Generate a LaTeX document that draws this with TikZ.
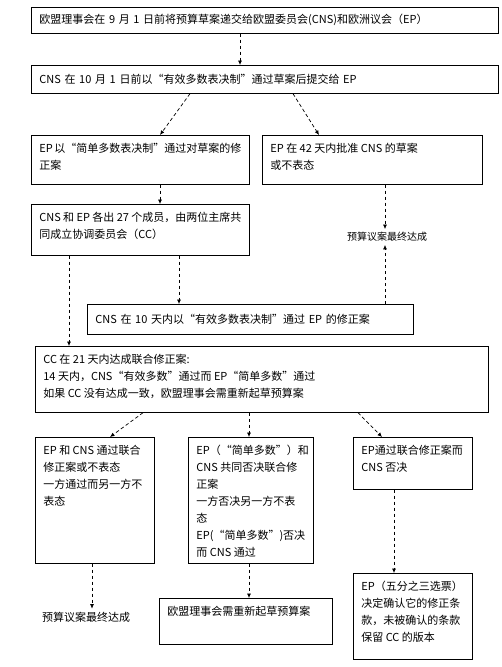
\documentclass[tikz,border=0pt]{standalone}
\usepackage{fontspec}
\setmainfont{Noto Sans CJK SC}
\usetikzlibrary{arrows.meta}
\newcommand{\boxtext}[3]{\parbox[t][#2pt][t]{#1pt}{#3}}

\begin{document}
\begin{tikzpicture}[x=1pt, y=-1pt, every node/.style={inner sep=2pt},
  stage/.style={draw, line width=0.7pt, anchor=north west, inner xsep=8pt,
    inner ysep=7.5pt, font=\fontsize{11}{17}\selectfont},
  flat/.style={stage, inner ysep=2pt, align=left},
  ann/.style={inner sep=3pt},
  arrow/.style={-{Latex[length=4.5pt, width=4pt]}, line width=0.7pt,
    dash pattern=on 3.5pt off 2.5pt}]
\useasboundingbox (0,0) rectangle (502,667);

% budget procedure, top to bottom
\node[flat, text width=451pt, minimum height=26pt] (draft) at (31,7)
  {欧盟理事会在 9 月 1 日前将预算草案递交给欧盟委员会(CNS)和欧洲议会（EP）};
\node[flat, text width=451pt, minimum height=28pt] (cnsread) at (31,65)
  {CNS 在 10 月 1 日前以“有效多数表决制”通过草案后提交给 EP};
\node[stage] (epamend) at (31,135)
  {\boxtext{202}{34}{EP 以“简单多数表决制”通过对草案的修\\正案}};
\node[stage] (epok) at (262,135)
  {\boxtext{204}{34}{EP 在 42 天内批准 CNS 的草案\\或不表态}};
\node[stage] (concil) at (31,204)
  {\boxtext{202}{36}{CNS 和 EP 各出 27 个成员，由两位主席共\\同成立协调委员会（CC）}};
\node[ann, font=\fontsize{10}{12}\selectfont] (done1) at (387,237) {预算议案最终达成};
\node[flat, text width=310pt, minimum height=30pt] (cnsok) at (87,304)
  {CNS 在 10 天内以“有效多数表决制”通过 EP 的修正案};
\node[stage] (joint) at (35,346)
  {\boxtext{437}{51}{CC 在 21 天内达成联合修正案:\\14 天内，CNS“有效多数”通过而 EP“简单多数”通过\\如果 CC 没有达成一致，欧盟理事会需重新起草预算案}};
\node[stage] (both) at (35,437)
  {\boxtext{103}{111}{EP 和 CNS 通过联合\\修正案或不表态\\一方通过而另一方不\\表态}};
\node[stage] (reject) at (188,437)
  {\boxtext{109}{111}{EP（“简单多数”）和\\CNS 共同否决联合修\\正案\\一方否决另一方不表\\态\\EP(“简单多数”)否决\\而 CNS 通过}};
\node[stage] (split) at (353,437)
  {\boxtext{103}{37}{EP通过联合修正案而\\CNS 否决}};
\node[ann, font=\fontsize{11}{13}\selectfont] (done2) at (86,617) {预算议案最终达成};
\node[stage] (redraft) at (159,598)
  {\boxtext{157}{31}{欧盟理事会需重新起草预算案}};
\node[stage] (override) at (353,573)
  {\boxtext{103}{71}{EP（五分之三选票）\\决定确认它的修正条\\款，未被确认的条款\\保留 CC 的版本}};

% connectors
\coordinate (bothout) at ([xshift=57pt]both.south west);
\draw[arrow] ([xshift=209pt]draft.south west) -- ([xshift=209pt]cnsread.north west);
\draw[arrow] ([xshift=159pt]cnsread.south west) -- ([xshift=129pt]epamend.north west);
\draw[arrow] ([xshift=262pt]cnsread.south west) -- ([xshift=57pt]epok.north west);
\draw[arrow] ([xshift=129pt]epamend.south west) -- ([xshift=129pt]concil.north west);
\draw[arrow] ([xshift=123pt]epok.south west) -- ([xshift=-2pt]done1.north);
\draw[arrow] ([xshift=298pt]cnsok.north west) -- ([xshift=-2pt]done1.south);
\draw[arrow] ([xshift=38pt]concil.south west) -- ([xshift=34pt]joint.north west);
\draw[arrow] ([xshift=148pt]concil.south west) -- ([xshift=92pt]cnsok.north west);
\draw[arrow] ([xshift=108pt]joint.south west) -- ([xshift=75pt]both.north west);
\draw[arrow] ([xshift=214pt]joint.south west) -- ([xshift=61pt]reject.north west);
\draw[arrow] ([xshift=323pt]joint.south west) -- ([xshift=29pt]split.north west);
\draw[arrow] (bothout) -- (done2.north -| bothout);
\draw[arrow] ([xshift=61pt]reject.south west) -- ([xshift=90pt]redraft.north west);
\draw[arrow] ([xshift=41pt]split.south west) -- ([xshift=41pt]override.north west);
\end{tikzpicture}
\end{document}
